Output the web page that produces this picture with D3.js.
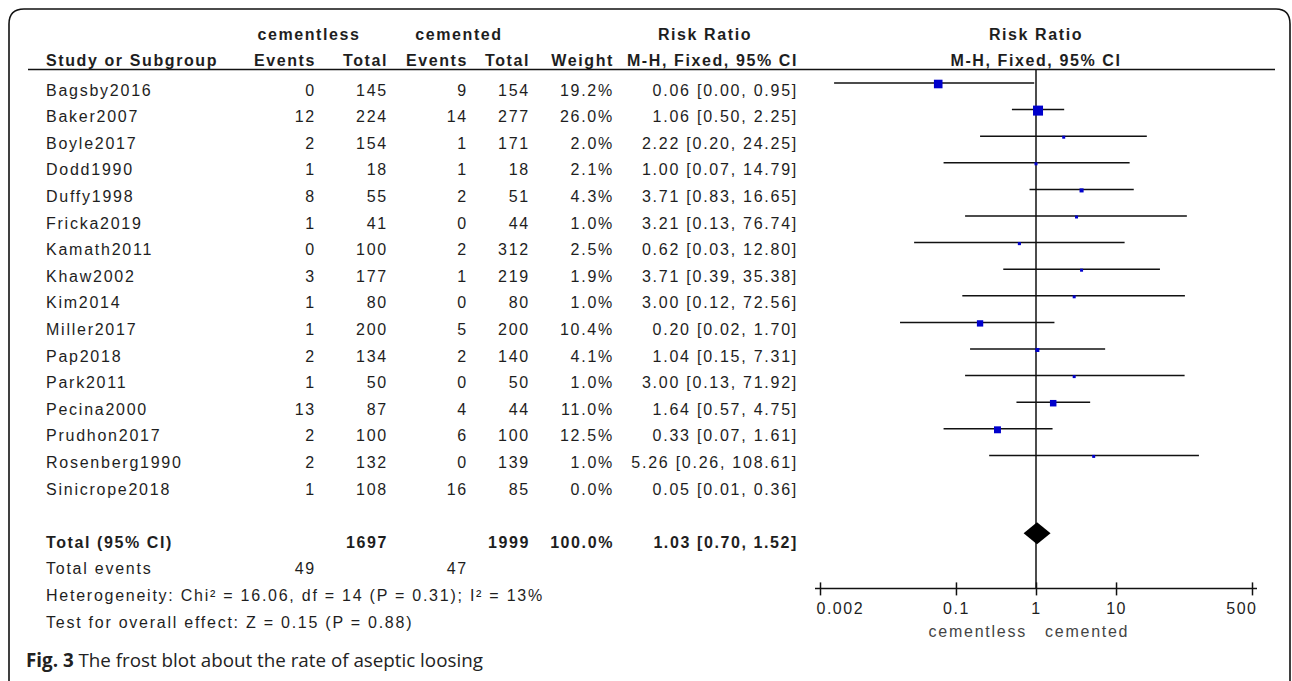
<!DOCTYPE html>
<html>
<head>
<meta charset="utf-8">
<script src="https://cdn.jsdelivr.net/npm/d3@7"></script>
<style>
body{margin:0;background:#fff;}
svg text{font-family:"Liberation Sans",Arial,sans-serif;font-size:16px;fill:#1e1e1e;letter-spacing:1.75px;}
svg text.b{font-weight:bold;letter-spacing:1.6px;}
svg text.cap{font-family:"Open Sans",sans-serif;font-size:18.8px;letter-spacing:0;fill:#222;}
</style>
</head>
<body>
<div class="container"></div>
<script>
const studies = ['Bagsby2016','Baker2007','Boyle2017','Dodd1990','Duffy1998','Fricka2019','Kamath2011','Khaw2002',
	'Kim2014','Miller2017','Pap2018','Park2011','Pecina2000','Prudhon2017','Rosenberg1990','Sinicrope2018'];
const eventsA = [0,12,2,1,8,1,0,3,1,1,2,1,13,2,2,1];
const totalA = [145,224,154,18,55,41,100,177,80,200,134,50,87,100,132,108];
const eventsB = [9,14,1,1,2,0,2,1,0,5,2,0,4,6,0,16];
const totalB = [154,277,171,18,51,44,312,219,80,200,140,50,44,100,139,85];
const weight = [19.2,26.0,2.0,2.1,4.3,1.0,2.5,1.9,1.0,10.4,4.1,1.0,11.0,12.5,1.0,0.0];
const rr = [0.06,1.06,2.22,1.00,3.71,3.21,0.62,3.71,3.00,0.20,1.04,3.00,1.64,0.33,5.26,0.05];
const lower = [0.003,0.50,0.20,0.07,0.83,0.13,0.03,0.39,0.12,0.02,0.15,0.13,0.57,0.07,0.26,0.01];
const upper = [0.95,2.25,24.25,14.79,16.65,76.74,12.80,35.38,72.56,1.70,7.31,71.92,4.75,1.61,108.61,0.36];

const sumTotals = [1697,1999];
const sumEvents = [49,47];
const pooled = [1.03,0.70,1.52];
const heterogeneity = 'Heterogeneity: Chi\u00b2 = 16.06, df = 14 (P = 0.31); I\u00b2 = 13%';
const overall = 'Test for overall effect: Z = 0.15 (P = 0.88)';
const axisTicks = [0.002,0.1,1,10,500];
const favours = ['cementless','cemented'];

const WIDTH = 1292;
const HEIGHT = 681;

var svg = d3.select('.container').append('svg')
	.attr('width',WIDTH)
	.attr('height',HEIGHT);

// frame round the figure, open at the bottom
var frame = d3.path();
frame.moveTo(9,HEIGHT);
frame.lineTo(9,24);
frame.quadraticCurveTo(9,9,24,9);
frame.lineTo(1276,9);
frame.quadraticCurveTo(1290,9,1290,24);
frame.lineTo(1290,HEIGHT);
svg.append('path').attr('d',frame.toString())
	.attr('fill','none').attr('stroke','#111').attr('stroke-width',1.6);

var xScale = d3.scaleLog()
	.domain([0.002,500])
	.range([820,1252]);

var yScale = d3.scaleLinear()
	.domain([0,20])
	.range([83,615]);

var boxSize = d3.scaleSqrt()
	.domain([0,26])
	.range([0,10]);

var fmt2 = d3.format('.2f');
var fmtW = function(w){ return d3.format('.1f')(w)+'%'; };
var ciText = function(r,l,h){ return fmt2(r)+' ['+fmt2(l)+', '+fmt2(h)+']'; };

// column anchors (right edges of the numeric columns)
var cols = {name:46, evA:316, totA:388, evB:468, totB:530, wt:614, ci:798};
var TXT = 12.5;

var txt = function(g,x,y,s,anchor,cls){
	return g.append('text').attr('x',x).attr('y',y)
		.attr('text-anchor',anchor||'start')
		.attr('class',cls||null)
		.text(s);
};

// header
var head = svg.append('g');
txt(head,309,40,'cementless','middle','b');
txt(head,459,40,'cemented','middle','b');
txt(head,705,40,'Risk Ratio','middle','b');
txt(head,xScale(1),40,'Risk Ratio','middle','b');
txt(head,cols.name,66,'Study or Subgroup','start','b');
txt(head,cols.evA,66,'Events','end','b');
txt(head,cols.totA,66,'Total','end','b');
txt(head,cols.evB,66,'Events','end','b');
txt(head,cols.totB,66,'Total','end','b');
txt(head,cols.wt,66,'Weight','end','b');
txt(head,cols.ci,66,'M-H, Fixed, 95% CI','end','b');
txt(head,xScale(1),66,'M-H, Fixed, 95% CI','middle','b');

svg.append('line')
	.attr('x1',28).attr('x2',1275)
	.attr('y1',69.5).attr('y2',69.5)
	.attr('stroke','#111').attr('stroke-width',1.6);

// study rows
var rows = svg.append('g');
studies.forEach(function(s,i){
	var ty = yScale(i)+TXT;
	txt(rows,cols.name,ty,s);
	txt(rows,cols.evA,ty,eventsA[i],'end');
	txt(rows,cols.totA,ty,totalA[i],'end');
	txt(rows,cols.evB,ty,eventsB[i],'end');
	txt(rows,cols.totB,ty,totalB[i],'end');
	txt(rows,cols.wt,ty,fmtW(weight[i]),'end');
	txt(rows,cols.ci,ty,ciText(rr[i],lower[i],upper[i]),'end');
});

// totals
var tot = svg.append('g');
var ty = yScale(17)+TXT;
txt(tot,cols.name,ty,'Total (95% CI)','start','b');
txt(tot,cols.totA,ty,sumTotals[0],'end','b');
txt(tot,cols.totB,ty,sumTotals[1],'end','b');
txt(tot,cols.wt,ty,fmtW(d3.sum(weight)),'end','b');
txt(tot,cols.ci,ty,ciText(pooled[0],pooled[1],pooled[2]),'end','b');
ty = yScale(18)+TXT;
txt(tot,cols.name,ty,'Total events');
txt(tot,cols.evA,ty,sumEvents[0],'end');
txt(tot,cols.evB,ty,sumEvents[1],'end');
txt(tot,cols.name,yScale(19)+TXT,heterogeneity);
txt(tot,cols.name,yScale(20)+TXT,overall);

// forest plot
var plot = svg.append('g');
var axisY = yScale(19);

plot.append('line')
	.attr('x1',xScale(1)).attr('x2',xScale(1))
	.attr('y1',69.5).attr('y2',axisY)
	.attr('stroke','#111').attr('stroke-width',1.5);

var idx = d3.range(studies.length).filter(function(i){ return weight[i] > 0; });

plot.selectAll('line.ci').data(idx).enter().append('line')
	.attr('class','ci')
	.attr('x1',function(i){ return xScale(lower[i]); })
	.attr('x2',function(i){ return xScale(upper[i]); })
	.attr('y1',function(i){ return yScale(i); })
	.attr('y2',function(i){ return yScale(i); })
	.attr('stroke','#111').attr('stroke-width',1.5);

plot.selectAll('rect.box').data(idx).enter().append('rect')
	.attr('class','box')
	.each(function(i){
		var s = Math.max(3,boxSize(weight[i]));
		d3.select(this)
			.attr('x',xScale(rr[i])-s/2).attr('y',yScale(i)-s/2+1)
			.attr('width',s).attr('height',s);
	})
	.attr('fill','#0000cc');

var dy = yScale(17)-2;
var diamond = [[xScale(pooled[1]),dy],[xScale(pooled[0]),dy-11],[xScale(pooled[2]),dy],[xScale(pooled[0]),dy+11]];
plot.append('path')
	.attr('d',d3.line()(diamond)+'Z')
	.attr('fill','#000');

// axis
var xAxis = d3.axisBottom(xScale)
	.tickValues(axisTicks)
	.tickFormat(function(d){ return d; })
	.tickSize(7)
	.tickPadding(7);

var ax = plot.append('g')
	.attr('transform','translate(0,'+axisY+')')
	.call(xAxis);
ax.select('.domain').remove();
ax.append('line')
	.attr('x1',xScale.range()[0]-5).attr('x2',xScale.range()[1]+5)
	.attr('stroke','#111').attr('stroke-width',1.5);
ax.selectAll('.tick line').attr('y1',-6).attr('stroke','#111').attr('stroke-width',1.5);
ax.selectAll('.tick text')
	.attr('fill',null)
	.style('font-family','"Liberation Sans",Arial,sans-serif')
	.style('font-size','16px')
	.style('letter-spacing','1.5px');
ax.selectAll('.tick text').filter(function(d){ return d === axisTicks[0]; })
	.attr('text-anchor','start').attr('x',-4);
ax.selectAll('.tick text').filter(function(d){ return d === axisTicks[axisTicks.length-1]; })
	.attr('text-anchor','end').attr('x',5);

txt(plot,xScale(1)-9,axisY+49,favours[0],'end').style('fill','#444');
txt(plot,xScale(1)+9,axisY+49,favours[1],'start').style('fill','#444');

// caption
var cap = svg.append('text').attr('class','cap').attr('x',26).attr('y',667);
cap.append('tspan').attr('font-weight','bold').text('Fig. 3');
cap.append('tspan').text(' The frost blot about the rate of aseptic loosing');
</script>
</body>
</html>
